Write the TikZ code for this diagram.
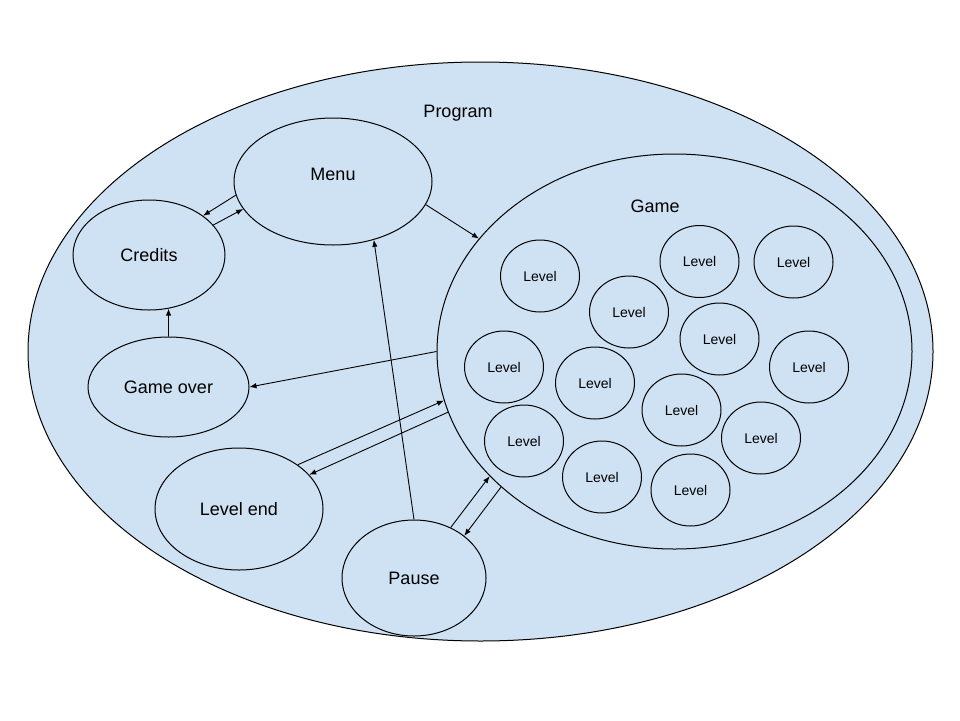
\documentclass[tikz,border=0pt]{standalone}
\usepackage{fontspec}
\setmainfont{Liberation Sans}
\usetikzlibrary{shapes.geometric,arrows.meta}
\definecolor{paleblue}{HTML}{CFE2F3}
\tikzset{
  state/.style={ellipse, draw=black, line width=1pt, fill=paleblue, inner sep=0pt,
    font=\fontsize{18}{20}\selectfont},
  levelnode/.style={state, minimum width=79pt, minimum height=72pt,
    font=\fontsize{14}{16}\selectfont},
  link/.style={line width=0.9pt, -{Latex[length=7pt,width=5.5pt]}}
}
\begin{document}
\begin{tikzpicture}[x=1pt,y=-1pt]
\useasboundingbox (0,0) rectangle (960,720);

% outer container
\node[state, minimum width=905pt, minimum height=579pt] (program) at (480.5,351.5) {};
\node[font=\fontsize{18}{20}\selectfont] (programlabel) at (458,113) {Program};

% top-level states
\node[state, minimum width=198pt, minimum height=127pt] (menu) at (333,181.5) {};
\node[font=\fontsize{18}{20}\selectfont] (menulabel) at (333,174) {Menu};
\node[state, minimum width=152pt, minimum height=110pt] (credits) at (149,255) {Credits};
\node[state, minimum width=161pt, minimum height=100pt] (gameover) at (168.5,387) {Game over};
\node[state, minimum width=168pt, minimum height=122pt] (levelend) at (239,509) {Level end};
\node[state, minimum width=144pt, minimum height=116pt] (pause) at (414,578) {Pause};

% game with its levels
\node[state, minimum width=475pt, minimum height=395pt] (game) at (674.5,351.5) {};
\node[font=\fontsize{18}{20}\selectfont] (gamelabel) at (655,206) {Game};

\node[levelnode] (l1)  at (540,276) {Level};
\node[levelnode] (l2)  at (699.5,261.5) {Level};
\node[levelnode] (l3)  at (793.5,262) {Level};
\node[levelnode] (l4)  at (629,312) {Level};
\node[levelnode] (l5)  at (719.5,339) {Level};
\node[levelnode] (l6)  at (504,367) {Level};
\node[levelnode] (l7)  at (595,383) {Level};
\node[levelnode] (l8)  at (809,367) {Level};
\node[levelnode] (l9)  at (681.5,410) {Level};
\node[levelnode] (l10) at (524,441) {Level};
\node[levelnode] (l11) at (761,438) {Level};
\node[levelnode] (l12) at (602,477) {Level};
\node[levelnode] (l13) at (690.5,490) {Level};

% transitions
\draw[link] (menu.188.6) -- (credits.36.7);
\draw[link] (credits.25.8) -- (menu.197.4);
\draw[link] (menu.346.1) -- (game.150.2);
\draw[link] (gameover.north) -- (credits.290.7);
\draw[link] (game.west) -- (gameover.east);
\draw[link] (levelend.37.6) -- (game.192.8);
\draw[link] (game.195.4) -- (levelend.26);
\draw[link] (pause.north) -- (menu.305);
\draw[link] (pause.54.2) -- (game.214.9);
\draw[link] (game.218.6) -- (pause.40.1);
\end{tikzpicture}
\end{document}
